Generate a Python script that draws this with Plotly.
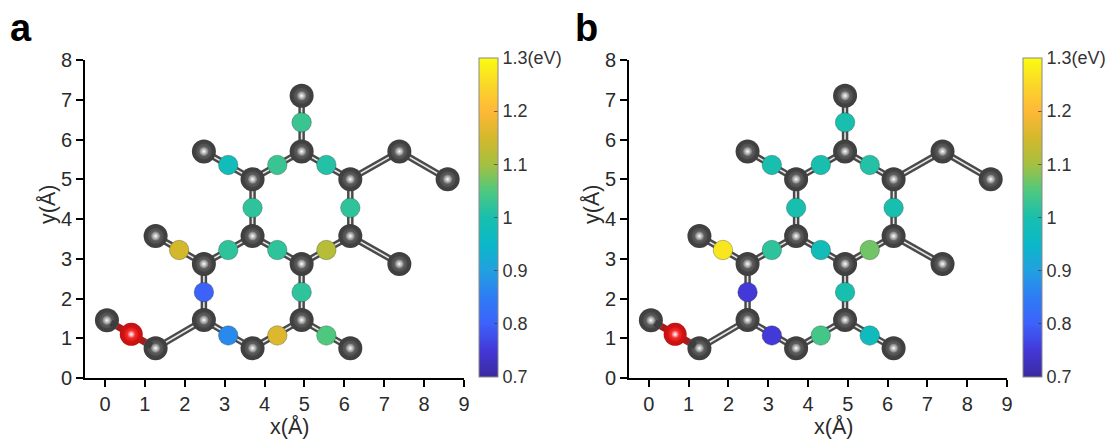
import plotly.graph_objects as go

# Carbon atoms (Å)
carbon_x = [0.05, 1.27, 2.48, 3.70, 4.93, 6.15, 2.48, 4.93, 1.27, 3.70, 6.15, 7.38, 3.70, 6.15, 2.48, 4.93, 7.38, 8.59, 4.93]
carbon_y = [1.45, 0.75, 1.46, 0.75, 1.46, 0.75, 2.87, 2.87, 3.57, 3.57, 3.57, 2.87, 5.00, 5.00, 5.70, 5.70, 5.70, 5.00, 7.10]
# Carbon-carbon bonds as index pairs
bonds = [(1, 2), (2, 3), (3, 4), (4, 5), (2, 6), (4, 7), (6, 8), (6, 9), (9, 7), (7, 10), (10, 11),
         (9, 12), (10, 13), (12, 14), (12, 15), (15, 13), (13, 16), (16, 17), (15, 18)]
# Oxygen atom
oxygen_x = [0.66]
oxygen_y = [1.10]
# Coloured atoms (Å)
site_x = [3.09, 4.32, 5.55, 2.48, 4.93, 1.86, 3.09, 4.32, 5.55, 3.70, 6.15, 3.09, 4.32, 5.55, 4.93]
site_y = [1.07, 1.07, 1.07, 2.16, 2.16, 3.22, 3.22, 3.22, 3.22, 4.28, 4.28, 5.36, 5.36, 5.36, 6.43]
# Energies (eV)
values_a = [0.87, 1.16, 1.05, 0.80, 1.02, 1.15, 1.02, 1.02, 1.12, 1.02, 1.02, 0.98, 1.03, 1.01, 1.03]
values_b = [0.75, 1.04, 0.97, 0.75, 1.00, 1.27, 1.02, 0.98, 1.07, 1.00, 1.00, 1.00, 1.00, 1.01, 1.00]
cbar_ticks = [0.7, 0.8, 0.9, 1.0, 1.1, 1.2, 1.3]
cbar_labels = ["0.7", "0.8", "0.9", "1", "1.1", "1.2", "1.3(eV)"]

scale = [[0, "#3a2a9e"], [0.083, "#4338d8"], [0.167, "#3d62fa"], [0.25, "#2e7cf5"], [0.333, "#22a0e0"],
         [0.417, "#0ab8c8"], [0.5, "#18bfae"], [0.583, "#4fc87f"], [0.667, "#a6c040"], [0.75, "#d4b82c"],
         [0.833, "#ffb838"], [0.917, "#fad828"], [1, "#fbfb10"]]

W, H = 1108, 439
FONT = "Liberation Sans, Arial, sans-serif"
TEXT = "#2a2a2a"


def fx(px):
    return px / W


def fy(py):
    return 1 - py / H


fig = go.Figure()

bx, by = [], []
for i, j in bonds:
    bx += [carbon_x[i], carbon_x[j], None]
    by += [carbon_y[i], carbon_y[j], None]


def ball(x, y, common, layers):
    # in a radial marker gradient, gradient.color is the centre and marker.color the rim
    for size, centre, rim in layers:
        fig.add_trace(go.Scatter(x=x, y=y, mode="markers",
                                 marker=dict(size=size, color=rim, line=dict(width=0),
                                             gradient=dict(type="radial", color=centre)), **common))


def panel(values, n, bar_left):
    xa, ya = ("x", "y") if n == 1 else (f"x{n}", f"y{n}")
    common = dict(xaxis=xa, yaxis=ya, showlegend=False, hoverinfo="skip")
    fig.add_trace(go.Scatter(x=bx, y=by, mode="lines", line=dict(color="#4a4a4a", width=6.5), **common))
    fig.add_trace(go.Scatter(x=bx, y=by, mode="lines", line=dict(color="#e8e8e8", width=1.6), **common))
    ball(carbon_x, carbon_y, common,
         [(24, "#4c4c4c", "#3e3e3e"), (16, "#787878", "#4c4c4c"), (9, "#ffffff", "#787878")])
    for k in (0, 1):
        cx, cy, ox, oy = carbon_x[k], carbon_y[k], oxygen_x[0], oxygen_y[0]
        sx, sy = cx + 0.17 * (ox - cx), cy + 0.17 * (oy - cy)
        mx, my = cx + 0.42 * (ox - cx), cy + 0.42 * (oy - cy)
        fig.add_trace(go.Scatter(x=[mx, ox], y=[my, oy], mode="lines", line=dict(color="#a51c1c", width=7), **common))
        fig.add_trace(go.Scatter(x=[sx, mx], y=[sy, my], mode="lines", line=dict(color="#3e3e3e", width=7), **common))
    ball(oxygen_x, oxygen_y, common,
         [(23, "#e81414", "#c21212"), (14, "#f65050", "#e81414"), (7, "#ffffff", "#f65050")])
    fig.add_trace(go.Scatter(
        x=site_x, y=site_y, mode="markers",
        marker=dict(size=19.5, color=values, colorscale=scale, cmin=0.7, cmax=1.3,
                    line=dict(width=0.6, color="rgba(40,60,50,0.55)"),
                    colorbar=dict(x=fx(bar_left), xanchor="left", y=fy(58), yanchor="top",
                                  len=319 / H, lenmode="fraction", thickness=19, thicknessmode="pixels",
                                  outlinewidth=1, outlinecolor="#8a8a8a", xpad=0, ypad=0,
                                  tickmode="array", tickvals=cbar_ticks, ticktext=cbar_labels,
                                  ticks="inside", ticklen=4, tickwidth=1, tickcolor="rgba(60,60,60,0.7)",
                                  tickfont=dict(family=FONT, size=18, color="#333333"))),
        **common))


panel(values_a, 1, 479)
panel(values_b, 2, 1023)


def axes(n, left, right):
    suffix = "" if n == 1 else str(n)
    ax = dict(showgrid=False, zeroline=False, showline=True, linecolor="#000000", linewidth=2,
              ticks="outside", ticklen=7, tickwidth=1.6, tickcolor="#000000",
              tickfont=dict(family=FONT, size=20, color=TEXT), dtick=1)
    fig.update_layout({
        f"xaxis{suffix}": dict(ax, domain=[fx(left), fx(right)], range=[-0.5, 9], tick0=0, anchor=f"y{suffix}"),
        f"yaxis{suffix}": dict(ax, domain=[fy(378), fy(60)], range=[0, 8], tick0=0, anchor=f"x{suffix}"),
    })


axes(1, 85, 464)
axes(2, 629, 1007)

for txt, px in (("a", 8), ("b", 573)):
    fig.add_annotation(text=f"<b>{txt}</b>", xref="paper", yref="paper", x=fx(px), y=fy(51),
                       xanchor="left", yanchor="bottom", showarrow=False,
                       font=dict(family=FONT, size=38, color="#000000"))
for shift in (0, 544):
    fig.add_annotation(text="x(Å)", xref="paper", yref="paper", x=fx(289.5 + shift), y=fy(427),
                       xanchor="center", yanchor="middle", showarrow=False,
                       font=dict(family=FONT, size=21.5, color=TEXT))
    fig.add_annotation(text="y(Å)", xref="paper", yref="paper", x=fx(48 + shift), y=fy(205), textangle=-90,
                       xanchor="center", yanchor="middle", showarrow=False,
                       font=dict(family=FONT, size=21.5, color=TEXT))

fig.update_layout(width=W, height=H, margin=dict(l=0, r=0, t=0, b=0, autoexpand=False), autosize=False,
                  paper_bgcolor="#ffffff", plot_bgcolor="#ffffff", showlegend=False)
fig.write_html("out.html", config={"displayModeBar": False}, post_script="document.body.style.margin='0';")
